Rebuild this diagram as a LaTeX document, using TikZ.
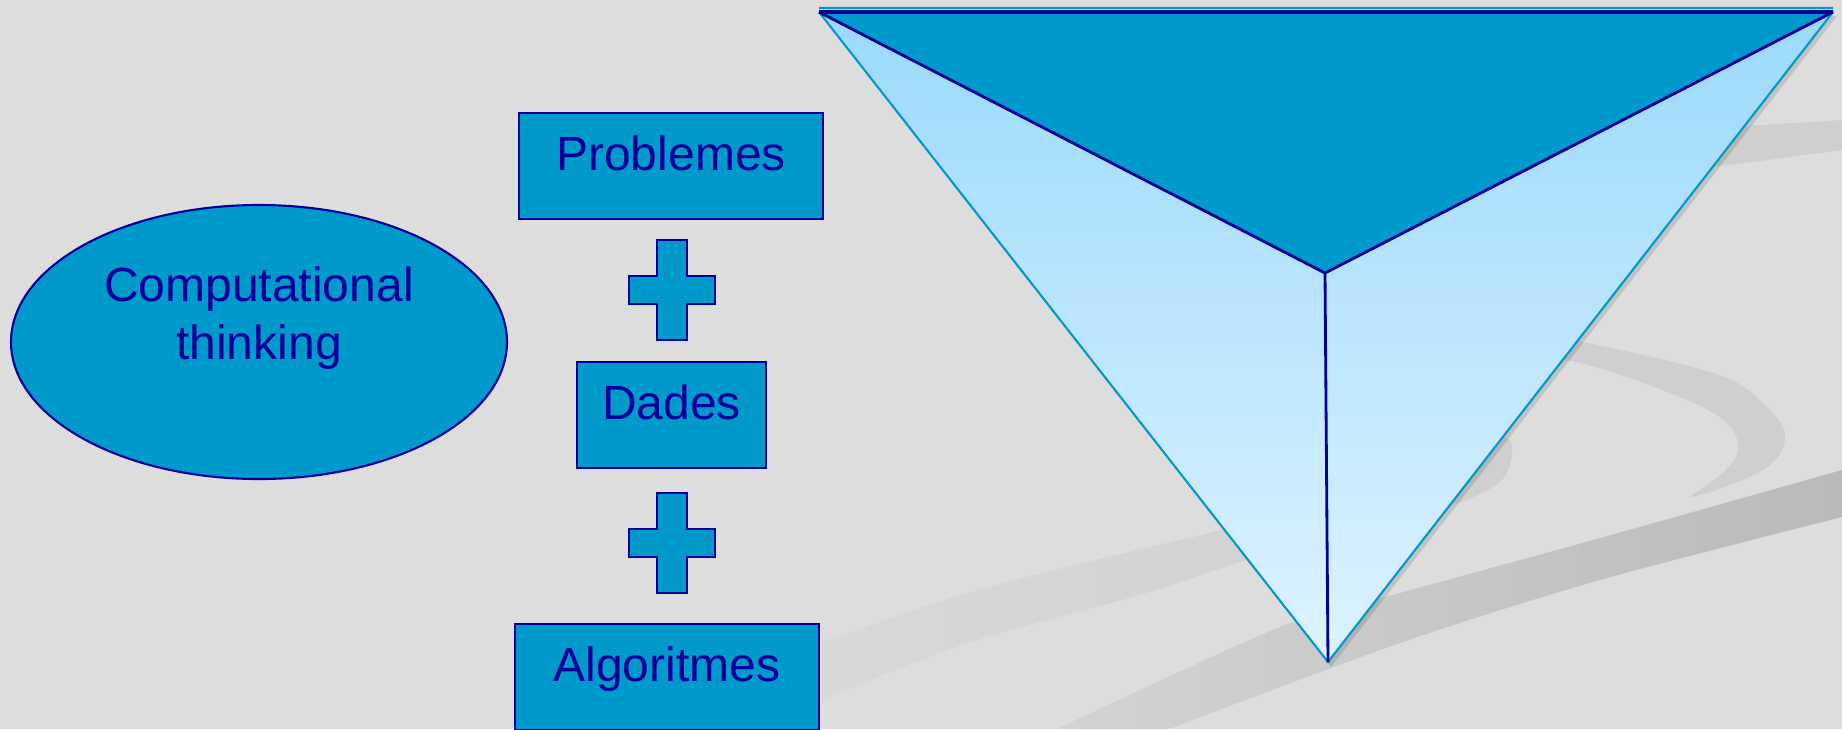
\documentclass[tikz,border=0pt]{standalone}
\usepackage{fontspec}
\setmainfont{Liberation Sans}
\usetikzlibrary{shapes.geometric}
\definecolor{bgc}{RGB}{221,221,221}
\definecolor{band}{RGB}{207,207,207}
\definecolor{bandd}{RGB}{186,186,186}
\definecolor{boxfill}{RGB}{0,153,204}
\definecolor{navy}{RGB}{0,0,153}
\definecolor{faceA}{RGB}{155,218,252}
\definecolor{faceB}{RGB}{222,243,255}
\begin{document}
\begin{tikzpicture}[
  txt/.style={font=\fontsize{13.66}{16.5}\selectfont,text=navy},
  box/.style={txt,draw=navy,line width=.8pt,fill=boxfill,inner sep=0pt,
    minimum height=1.06cm,text height=11pt,text depth=8.7pt},
  oval/.style={txt,ellipse,draw=navy,line width=.6pt,fill=boxfill,inner sep=0pt,
    minimum width=4.96cm,minimum height=2.74cm,align=center,text height=27pt,text depth=16.8pt},
  plusmark/.pic={\filldraw[fill=boxfill,draw=navy,line width=.8pt]
    (-.15,.5) -- (.15,.5) -- (.15,.14) -- (.43,.14) -- (.43,-.14) -- (.15,-.14) -- (.15,-.5)
    -- (-.15,-.5) -- (-.15,-.14) -- (-.43,-.14) -- (-.43,.14) -- (-.15,.14) -- cycle;}]
\useasboundingbox (0,0) rectangle (18.42,7.29);
\clip (0,0) rectangle (18.42,7.29);
\fill[bgc] (0,0) rectangle (18.42,7.29);
% background swooshes
\fill[band] plot[smooth] coordinates {(16.3,5.98) (17.6,6.04) (18.42,6.09)} -- (18.42,5.79)
  -- plot[smooth] coordinates {(18.42,5.79) (17.6,5.68) (16.3,5.52)} -- cycle;
\fill[band] plot[smooth cycle,tension=.6] coordinates {(15.0,3.99) (15.73,3.89) (17.13,3.56) (17.63,3.26)
  (17.85,2.92) (17.63,2.59) (16.92,2.32) (17.23,2.56) (17.38,2.79) (17.27,3.06) (16.80,3.32) (15.80,3.66) (15.0,3.74)};
\shade[left color=band!35!bgc,right color=band] plot[smooth,tension=.6] coordinates {(8.22,0.86) (9.68,1.36) (11.46,1.81)
  (12.18,1.98) (13.5,2.35) (14.7,2.85) (15.05,2.92) (15.12,2.74) (15.0,2.47) (14.6,2.26)}
  -- plot[smooth,tension=.6] coordinates {(14.2,2.2) (12.4,1.67) (11.46,1.36) (9.68,0.86) (8.22,0.29)} -- cycle;
\shade[left color=band!70!bgc,right color=bandd] plot[smooth] coordinates {(10.57,0) (12.8,1.02) (14.0,1.36) (15.93,1.89) (18.42,2.59)}
  -- plot[smooth] coordinates {(18.42,2.12) (16.0,1.49) (14.0,0.86) (11.69,0)} -- cycle;
% pyramid
\coordinate (tl) at (8.19,7.17); \coordinate (tr) at (18.33,7.17);
\coordinate (ap) at (13.25,4.56); \coordinate (tip) at (13.28,0.67);
\fill[black,opacity=.12] ([shift={(.04,-.04)}]tl) -- ([shift={(.04,-.04)}]tr) -- ([shift={(.03,-.05)}]tip) -- cycle;
\shade[top color=faceA,bottom color=faceB] (tl) -- (tr) -- (tip) -- cycle;
\fill[boxfill] (tl) -- (tr) -- (ap) -- cycle;
\draw[boxfill,line width=.6pt] (tl) -- (tip) -- (tr) ([yshift=.04cm]tl) -- ([yshift=.04cm]tr);
\draw[navy,line width=.8pt] (tl) -- (ap) -- (tr) (ap) -- (tip);
\draw[navy,line width=1pt] (tl) -- (tr);
% left part
\node[oval] (ct) at (2.59,3.87) {Computational\\thinking};
\node[box,minimum width=3.04cm] (prob) at (6.71,5.63) {Problemes};
\node[box,minimum width=1.89cm] (dad) at (6.715,3.14) {Dades};
\node[box,minimum width=3.04cm] (alg) at (6.67,0.52) {Algoritmes};
\pic at (6.72,4.39) {plusmark};
\pic at (6.72,1.86) {plusmark};
\end{tikzpicture}
\end{document}
